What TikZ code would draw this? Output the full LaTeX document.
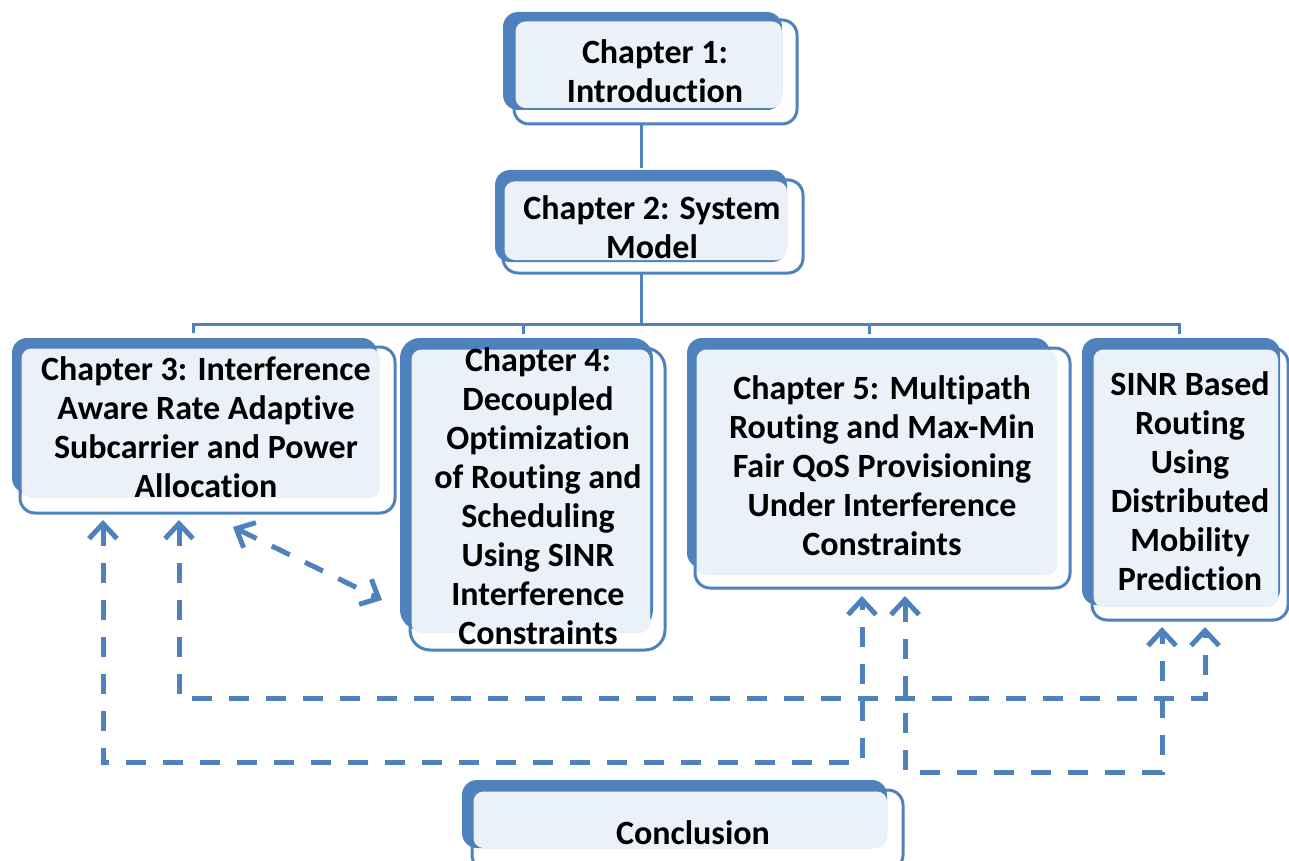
\documentclass[tikz,border=0pt]{standalone}
\usepackage{fontspec}
\setmainfont{Carlito}[Ligatures=NoCommon]
\usetikzlibrary{arrows.meta,calc,fit}
\definecolor{accent}{HTML}{4F81BD}
\definecolor{paleblue}{HTML}{EBF1F9}

\tikzset{
  framebox/.style={draw=accent, line width=3pt, fill=white, rounded corners=15pt,
                   inner sep=0pt, outer sep=0pt},
  backplate/.style={fill=accent, rounded corners=15pt},
  faceplate/.style={fill=paleblue, rounded corners=10pt},
  tree/.style={draw=accent, line width=3pt},
  barb/.tip={Straight Barb[length=15pt,width=28pt,line width=5pt]},
  link/.style={draw=accent, line width=5pt, dash pattern=on 20pt off 17pt,
               barb-barb},
  caption/.style={font=\bfseries\fontsize{34}{39}\selectfont, align=center,
                  text=black, inner sep=0pt},
}

% #1 name, #2/#3 blue plate corners, #4/#5 framed box corners, #6 face bottom-right
\newcommand\chapterbox[6]{%
  \coordinate (#1-nw) at #4;
  \coordinate (#1-se) at #5;
  \node[framebox, fit=(#1-nw)(#1-se)] (#1) {};
  \fill[backplate] #2 rectangle #3;
  \fill[faceplate] ($(#1-nw)+(1.5,1.5)$) rectangle #6;
}

\begin{document}
\begin{tikzpicture}[x=1pt,y=-1pt]
  \useasboundingbox (0,0) rectangle (1289,861);
  \clip (0,0) rectangle (1289,861);

  % chapter boxes
  \chapterbox{c1}{(503,12)}{(782,110)}{(514,20)}{(797,124)}{(782,108)}
  \node[caption] (c1-text) at (655,71) {Chapter 1:\\Introduction};

  \chapterbox{c2}{(495,170)}{(787,262)}{(503,180)}{(803,273)}{(787,260)}
  \node[caption] (c2-text) at (652,227) {Chapter 2: System\\Model};

  \chapterbox{c3}{(12,338)}{(377,493)}{(20,347)}{(395,513)}{(380,498)}
  \node[caption] (c3-text) at (206,427)
    {Chapter 3: Interference\\Aware Rate Adaptive\\Subcarrier and Power\\Allocation};

  \begin{scope}[backplate/.append style={rounded corners=20pt},
                framebox/.append style={rounded corners=20pt}]
  \chapterbox{c4}{(400,338)}{(653,630)}{(410,348)}{(665,650)}{(650,633)}
  \end{scope}
  \node[caption] (c4-text) at (538,496)
    {Chapter 4:\\Decoupled\\Optimization\\of Routing and\\Scheduling\\Using SINR\\Interference\\Constraints};

  \chapterbox{c5}{(687,338)}{(1050,568)}{(695,348)}{(1070,588)}{(1057,575)}
  \node[caption] (c5-text) at (882,466)
    {Chapter 5: Multipath\\Routing and Max-Min\\Fair QoS Provisioning\\Under Interference\\Constraints};

  \chapterbox{c6}{(1082,338)}{(1280,605)}{(1092,348)}{(1288,620)}{(1278,607)}
  \node[caption] (c6-text) at (1190,481)
    {SINR Based\\Routing\\Using\\Distributed\\Mobility\\Prediction};

  \chapterbox{c7}{(462,780)}{(887,848)}{(472,790)}{(903,870)}{(887,848)}
  \node[caption] (c7-text) at (693,833) {Conclusion};

  % hierarchy lines
  \coordinate (bus) at (641,324);
  \draw[tree] (c1.south -| bus) -- ($(c2.north -| bus)+(0,-12)$);
  \draw[tree] (c2.south -| bus) -- (bus);
  \coordinate (d3) at ($(c3.north)+(-14,-14)$);
  \coordinate (d4) at ($(c4.north)+(-14,-14)$);
  \coordinate (d5) at ($(c5.north)+(-13,-14)$);
  \coordinate (d6) at ($(c6.north)+(-11,-14)$);
  \draw[tree] (d3) |- (bus) -| (d6);
  \draw[tree] (d4) -- (d4 |- bus);
  \draw[tree] (d5) -- (d5 |- bus);

  % dashed relations
  \coordinate (tA3) at ($(c3.south west)+(83,7)$);
  \coordinate (tB3) at ($(c3.south west)+(159,7)$);
  \coordinate (tA5) at ($(c5.south west)+(167,8)$);
  \coordinate (tC5) at ($(c5.south west)+(210,8)$);
  \coordinate (tC6) at ($(c6.south west)+(70,7)$);
  \coordinate (tB6) at ($(c6.south west)+(113,7)$);
  \coordinate (laneA) at (0,762);
  \coordinate (laneB) at (0,698);
  \coordinate (laneC) at (0,772);

  \draw[link] (tA3) |- (laneA -| tA5) -- (tA5);
  \draw[link] (tB3) |- (laneB -| tB6) -- (tB6);
  \draw[link] (tC5) |- (laneC -| tC6) -- (tC6);
  \draw[link] ($(c3.south west)+(213,14)$) -- ($(c4.south west)+(-28,-50)$);
\end{tikzpicture}
\end{document}
